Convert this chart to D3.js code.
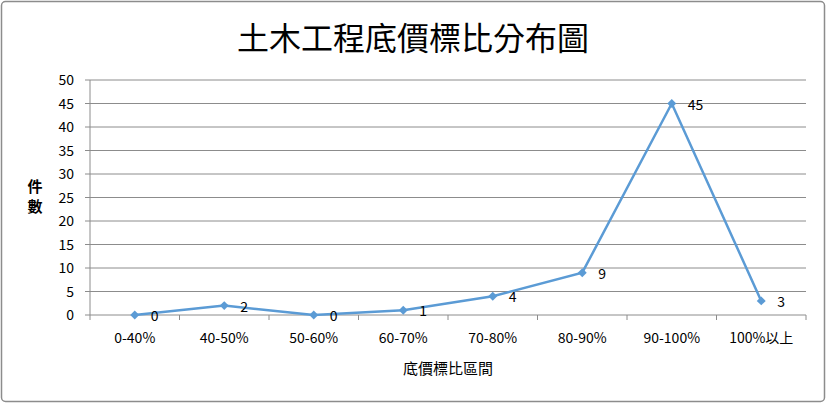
<!DOCTYPE html>
<html><head><meta charset="utf-8">
<script src="https://cdn.jsdelivr.net/npm/d3@7"></script>
<style>body{margin:0;background:#fff}</style></head>
<body><svg id="c" width="827" height="404"></svg>
<script>
const categories=["0-40%","40-50%","50-60%","60-70%","70-80%","80-90%","90-100%","100%以上"];
const values=[0,2,0,1,4,9,45,3];
const yTicks=[0,5,10,15,20,25,30,35,40,45,50];
const font="'Noto Sans CJK TC','Noto Sans',sans-serif";
const svg=d3.select("#c");
svg.append("rect").attr("x",1.5).attr("y",1.5).attr("width",823).attr("height",400).attr("rx",4).attr("fill","#fff").attr("stroke","#8c8c8c").attr("stroke-width",1.5);
const x=d3.scaleBand().domain(categories).range([90,806]);
const y=d3.scaleLinear().domain([0,50]).range([315,80]);
const g=svg.append("g");
g.selectAll(".grid").data(yTicks).join("line").attr("x1",90).attr("x2",806).attr("y1",d=>y(d)).attr("y2",d=>y(d)).attr("stroke","#8c8c8c").attr("stroke-width",1);
g.append("line").attr("x1",90).attr("x2",90).attr("y1",80).attr("y2",315).attr("stroke","#8c8c8c");
g.selectAll(".tk").data(yTicks).join("line").attr("x1",85).attr("x2",90).attr("y1",d=>y(d)).attr("y2",d=>y(d)).attr("stroke","#8c8c8c");
g.selectAll(".yl").data(yTicks).join("text").attr("x",74).attr("y",d=>y(d)+5).attr("text-anchor","end").attr("font-size",14).attr("font-family",font).text(d=>d);
const xt=categories.map(c=>x(c)).concat([806]);
g.selectAll(".xtk").data(xt).join("line").attr("x1",d=>d).attr("x2",d=>d).attr("y1",315).attr("y2",320).attr("stroke","#8c8c8c");
g.selectAll(".xl").data(categories).join("text").attr("x",d=>x(d)+x.bandwidth()/2).attr("y",343).attr("text-anchor","middle").attr("font-size",14).attr("font-family",font).text(d=>d);
const cx=(d,i)=>x(categories[i])+x.bandwidth()/2;
const line=d3.line().x((d,i)=>cx(d,i)).y(d=>y(d));
g.append("path").datum(values).attr("d",line).attr("fill","none").attr("stroke","#5b9bd5").attr("stroke-width",2.5);
g.selectAll(".pt").data(values).join("path").attr("d",d3.symbol(d3.symbolSquare,40)).attr("transform",(d,i)=>`translate(${cx(d,i)},${y(d)}) rotate(45)`).attr("fill","#5b9bd5");
g.selectAll(".vl").data(values).join("text").attr("x",(d,i)=>cx(d,i)+16).attr("y",d=>y(d)+6).attr("font-size",14).attr("font-family",font).text(d=>d);
svg.append("text").attr("x",413).attr("y",50).attr("text-anchor","middle").attr("font-size",32).attr("font-family",font).text("土木工程底價標比分布圖");
svg.append("text").attr("x",448).attr("y",374).attr("text-anchor","middle").attr("font-size",15).attr("font-family",font).text("底價標比區間");
svg.append("text").attr("x",35).attr("y",192).attr("text-anchor","middle").attr("font-size",15).attr("font-weight","bold").attr("font-family",font).text("件");
svg.append("text").attr("x",35).attr("y",212).attr("text-anchor","middle").attr("font-size",15).attr("font-weight","bold").attr("font-family",font).text("數");
</script></body></html>
